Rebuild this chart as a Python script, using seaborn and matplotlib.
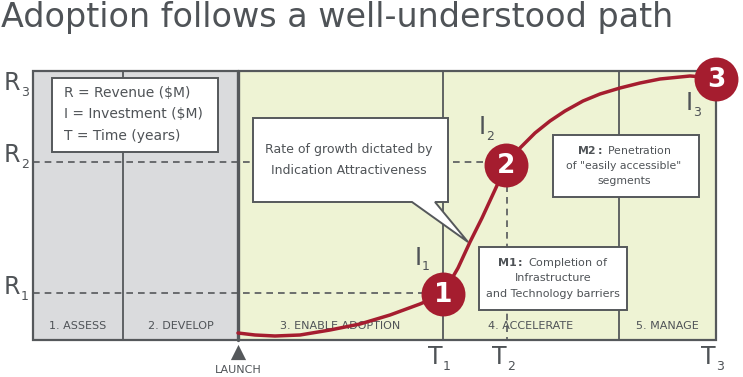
import matplotlib
matplotlib.use("Agg")
import matplotlib.pyplot as plt
from matplotlib.patches import Polygon, Rectangle
import seaborn as sns

# ---- chart data (diagram coordinates, x = time axis, y = revenue axis, pixel-like units) ----
stage_names = ["1. ASSESS", "2. DEVELOP", "3. ENABLE ADOPTION", "4. ACCELERATE", "5. MANAGE"]
stage_edges = [33, 123, 238, 443, 619, 716]
stage_is_green = [False, False, True, True, True]
box_top, box_bottom = 71, 340

r_labels = ["1", "2", "3"]
r_levels = [293, 162, 78]
r_label_y = [287, 155, 83]
t_labels = ["1", "2", "3"]
t_values = [443, 507, 716]
launch_t = 238

curve_t = [238, 255, 275, 300, 330, 360, 390, 420, 443, 458, 470, 482, 494, 506,
           520, 535, 550, 565, 583, 600, 620, 640, 660, 690, 716]
curve_r = [333, 335, 336, 335, 330, 324, 315, 304, 294, 268, 242, 218, 192, 166,
           148, 133, 121, 111, 101, 94, 88, 83, 79, 76, 78]

milestone_t = [443, 506, 716]
milestone_r = [294, 165, 79]
milestone_lbl = ["1", "2", "3"]

inv_labels = ["1", "2", "3"]
inv_pos = [(415, 258), (479, 127), (686, 103)]

legend_lines = ["R = Revenue ($M)", "I = Investment ($M)", "T = Time (years)"]
callout_lines = ["Rate of growth dictated by", "Indication Attractiveness"]
m1_lines = ["Completion of", "Infrastructure", "and Technology barriers"]
m2_lines = ["Penetration", "of \"easily accessible\"", "segments"]

# ---- styles ----
GREY_FILL = "#dadbdd"
GREEN_FILL = "#eef3d4"
LINE = "#55585b"
TXT = "#4f5357"
RED = "#a51d2f"

sns.set_theme(style="white")
plt.rcParams["font.family"] = ["DejaVu Sans"]


def sub_label(x, y, main, sub, ha="left"):
    # big letter with a small, lowered index
    t = ax.text(x, y, main, fontsize=17, color=TXT, ha=ha, va="center", zorder=4)
    dx = 8 if ha == "center" else (17 if main != "I" else 7)
    ax.text(x + dx, y + 9, sub, fontsize=9, color=TXT, ha="left", va="center", zorder=4)
    return t


fig = plt.figure(figsize=(7.43, 3.77), dpi=100)
ax = fig.add_axes([0, 0, 1, 1])
ax.set_xlim(0, 743)
ax.set_ylim(377, 0)
ax.axis("off")

# title
ax.text(1, 18, "Adoption follows a well-understood path", fontsize=24, color=TXT,
        va="center", ha="left")

# stage backgrounds
for i, name in enumerate(stage_names):
    x0, x1 = stage_edges[i], stage_edges[i + 1]
    ax.fill_between([x0, x1], box_top, box_bottom,
                    color=GREEN_FILL if stage_is_green[i] else GREY_FILL, lw=0, zorder=0)
    ax.text((x0 + x1) / 2, 326, name, fontsize=8, color=TXT, ha="center", va="center", zorder=3)

# box frame and stage separators
ax.add_patch(Rectangle((stage_edges[0], box_top), stage_edges[-1] - stage_edges[0],
                       box_bottom - box_top, fill=False, ec=LINE, lw=1.6, zorder=2))
for x in stage_edges[1:-1]:
    ax.plot([x, x], [box_top, box_bottom], color=LINE, lw=2.4 if x == launch_t else 1.3, zorder=2)

# dashed guide lines
ax.plot([stage_edges[0], milestone_t[0]], [r_levels[0]] * 2, color=LINE, lw=1.2, ls=(0, (4, 3)), zorder=2)
ax.plot([stage_edges[0], milestone_t[1]], [r_levels[1]] * 2, color=LINE, lw=1.2, ls=(0, (4, 3)), zorder=2)
ax.plot([t_values[1]] * 2, [r_levels[1], box_bottom], color=LINE, lw=1.2, ls=(0, (4, 3)), zorder=2)

# axis letters
for lbl, y in zip(r_labels, r_label_y):
    sub_label(4, y, "R", lbl)
for lbl, x in zip(t_labels, t_values):
    sub_label(x - 8, 357, "T", lbl, ha="center")
for lbl, (x, y) in zip(inv_labels, inv_pos):
    sub_label(x, y, "I", lbl)

# launch marker
ax.scatter([launch_t], [352], marker="^", s=120, color=LINE, lw=0, zorder=3)
ax.text(launch_t, 370, "LAUNCH", fontsize=8, color=TXT, ha="center", va="center")

# adoption curve
sns.lineplot(x=curve_t, y=curve_r, sort=False, estimator=None, color=RED, lw=2.5, ax=ax, zorder=5)

# legend box
ax.add_patch(Rectangle((52, 78), 166, 74, fc="white", ec=LINE, lw=1.4, zorder=4))
for k, line in enumerate(legend_lines):
    ax.text(64, 93 + k * 21.5, line, fontsize=10, color=TXT, ha="left", va="center", zorder=5)

# callout with tail
callout = Polygon([(253, 118), (448, 118), (448, 202), (435, 202), (468, 242),
                   (412, 202), (253, 202)], closed=True, fc="white", ec=LINE, lw=1.4, zorder=4)
ax.add_patch(callout)
for k, line in enumerate(callout_lines):
    ax.text(349, 149 + k * 21, line, fontsize=9, color=TXT, ha="center", va="center", zorder=5)

# M1 box
ax.add_patch(Rectangle((479, 247), 148, 63, fc="white", ec=LINE, lw=1.4, zorder=4))
ax.text(553, 263, r"$\mathbf{M1{:}}$ " + m1_lines[0], fontsize=8, color=TXT, ha="center", va="center", zorder=5)
ax.text(553, 278, m1_lines[1], fontsize=8, color=TXT, ha="center", va="center", zorder=5)
ax.text(553, 294, m1_lines[2], fontsize=8, color=TXT, ha="center", va="center", zorder=5)

# M2 box
ax.add_patch(Rectangle((553, 135), 146, 62, fc="white", ec=LINE, lw=1.4, zorder=4))
ax.text(624, 150, r"$\mathbf{M2{:}}$ " + m2_lines[0], fontsize=7.8, color=TXT, ha="center", va="center", zorder=5)
ax.text(624, 166, m2_lines[1], fontsize=7.8, color=TXT, ha="center", va="center", zorder=5)
ax.text(624, 181, m2_lines[2], fontsize=7.8, color=TXT, ha="center", va="center", zorder=5)

# milestone circles
sns.scatterplot(x=milestone_t, y=milestone_r, s=1000, color=RED, linewidth=0, ax=ax, zorder=6,
                legend=False)
for lbl, x, y in zip(milestone_lbl, milestone_t, milestone_r):
    ax.text(x, y + 1, lbl, fontsize=19, color="white", fontweight="bold", ha="center", va="center", zorder=7)

fig.savefig("out.png", dpi=100)
